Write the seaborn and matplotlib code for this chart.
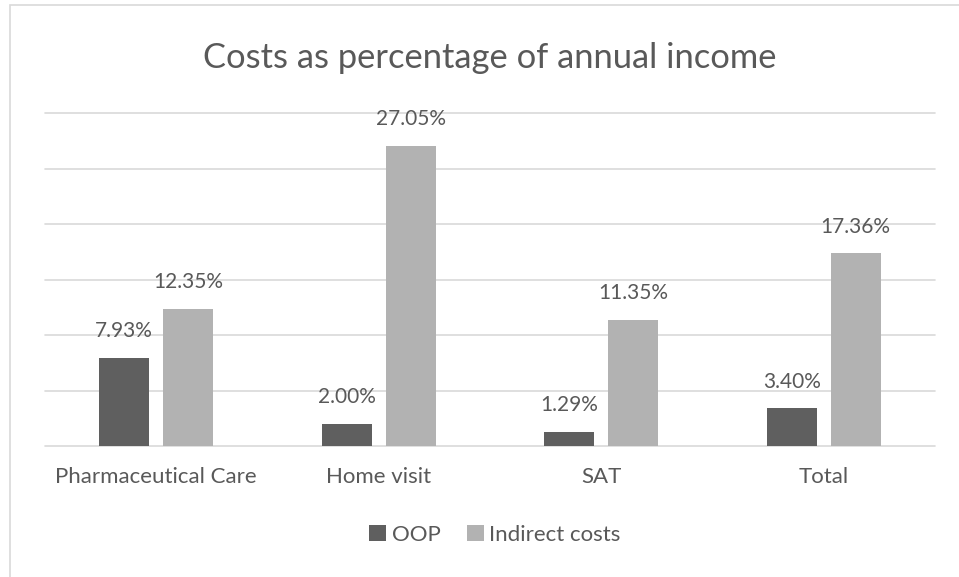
import matplotlib
matplotlib.use("Agg")
import matplotlib.pyplot as plt
from matplotlib.patches import Patch, Rectangle
import pandas as pd
import seaborn as sns

# Data
categories = ["Pharmaceutical Care", "Home visit", "SAT", "Total"]
series = ["OOP", "Indirect costs"]
oop = [7.93, 2.00, 1.29, 3.40]
indirect = [12.35, 27.05, 11.35, 17.36]
colors = ["#5f5f5f", "#b2b2b2"]

df = pd.DataFrame({
    "category": categories * 2,
    "series": [series[0]] * len(categories) + [series[1]] * len(categories),
    "value": oop + indirect,
})

sns.set_theme(style="white")
plt.rcParams["font.family"] = ["Lato", "DejaVu Sans"]
text_color = "#595959"
grid_color = "#d9d9d9"

fig = plt.figure(figsize=(9.59, 5.77), dpi=100)
ax = fig.add_axes([45 / 959, 1 - 446 / 577, 890 / 959, 333 / 577])

sns.barplot(
    data=df, x="category", y="value", hue="series",
    order=categories, hue_order=series, palette=colors,
    width=0.575, gap=0.22, legend=False, ax=ax,
    edgecolor="none", linewidth=0, saturation=1,
)

ax.set_ylim(0, 30)
ax.set_yticks(range(0, 31, 5))
ax.set_yticklabels([])
ax.tick_params(axis="y", length=0)
ax.yaxis.grid(True, color=grid_color, linewidth=1.2)
ax.set_axisbelow(True)
for gl in ax.get_ygridlines():
    gl.set_clip_on(False)
for s in ax.spines.values():
    s.set_visible(False)
ax.set_xlabel("")
ax.set_ylabel("")
ax.tick_params(axis="x", length=0, pad=15, labelsize=16, labelcolor=text_color)

# Value labels above bars
for container, vals in zip(ax.containers, [oop, indirect]):
    ax.bar_label(container, labels=[f"{v:.2f}%" for v in vals],
                 padding=12, fontsize=15, color=text_color)

# Title
fig.text(489.5 / 959, 1 - 58 / 577, "Costs as percentage of annual income",
         ha="center", va="center", fontsize=24.8, color=text_color)

# Legend
handles = [Patch(facecolor=c, edgecolor="none", label=s) for c, s in zip(colors, series)]
fig.legend(handles=handles, loc="center", bbox_to_anchor=(495 / 959, 1 - 535 / 577),
           ncol=2, frameon=False, fontsize=16, labelcolor=text_color,
           handlelength=0.75, handleheight=0.75, handletextpad=0.25, columnspacing=1.2)

# Chart frame
fig.patches.append(Rectangle((9.5 / 959, -0.1), 1.2, 1 - 4.5 / 577 + 0.1,
                             transform=fig.transFigure, fill=False,
                             edgecolor=grid_color, linewidth=1.2))

fig.savefig("out.png", dpi=100)
